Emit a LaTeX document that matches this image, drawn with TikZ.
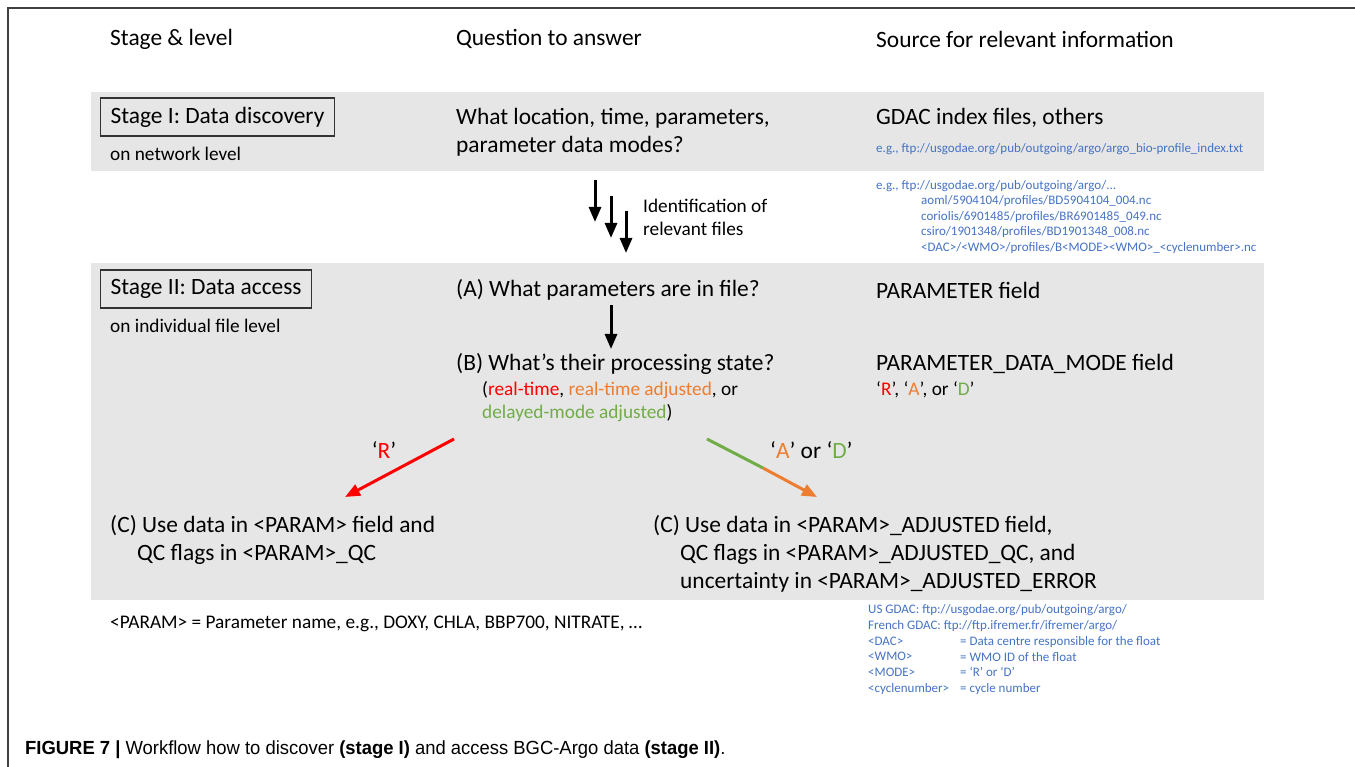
\documentclass[tikz,border=0pt]{standalone}
\usepackage{fontspec}
\setmainfont{Carlito}
\newfontfamily\capfont[FakeStretch=0.97]{Liberation Sans}
\usetikzlibrary{arrows.meta,positioning}
\definecolor{bandgray}{HTML}{E7E6E6}
\definecolor{linkblue}{HTML}{4472C4}
\definecolor{modered}{HTML}{FF0000}
\definecolor{modeorange}{HTML}{ED7D31}
\definecolor{modegreen}{HTML}{70AD47}

\begin{document}
\begin{tikzpicture}[x=1pt,y=-1pt,
      bigtxt/.style={
         anchor=west,
         inner sep=0pt,
         align=left,
         font=\fontsize{23.4}{28}\selectfont},
      midtxt/.style={
         anchor=west,
         inner sep=0pt,
         align=left,
         font=\fontsize{19.3}{23}\selectfont},
      linktxt/.style={
         anchor=west,
         inner sep=0pt,
         align=left,
         text=linkblue,
         font=\fontsize{13}{15.7}\selectfont},
      stagebox/.style={
         draw=black!80,
         line width=1.2pt,
         anchor=west,
         inner xsep=10pt,
         minimum height=38pt,
         font=\fontsize{23.4}{28}\selectfont},
      blackarrow/.style={-{Triangle[width=12pt,length=15pt]}, line width=3pt},
      modearrow/.style={-{Triangle[width=12pt,length=15pt]}, line width=3pt}
      ]
      \useasboundingbox (0,0) rectangle (1355,767);

      % frame and grey bands
      \draw[line width=1.3pt, black!75] (8,767) -- (8,8) -- (1355,8);
      \fill[bandgray] (91,92) rectangle (1264,171);
      \fill[bandgray] (91,263) rectangle (1264,600);

      % column heads
      \node[bigtxt] (hstage) at (110,39) {Stage \& level};
      \node[bigtxt] (hquest) at (456,39) {Question to answer};
      \node[bigtxt] (hsource) at (876,39) {Source for relevant information};

      % stage I
      \node[stagebox] (s1) at (100,117) {Stage I: Data discovery};
      \node[midtxt] (s1lvl) at (110,154) {on network level};
      \node[bigtxt] (q1) at (456,132) {What location, time, parameters,\\parameter data modes?};
      \node[bigtxt] (src1) at (876,118) {GDAC index files, others};
      \node[linktxt] (idx) at (876,149) {e.g., ftp://usgodae.org/pub/outgoing/argo/argo\_bio-profile\_index.txt};

      \foreach \n/\x/\y in {a/595/180, b/611/196, c/626/211} {
         \coordinate (id\n top) at (\x,\y);
         \coordinate (id\n end) at (\x,\y+42);
         \draw[blackarrow] (id\n top) -- (id\n end);
      }
      \node[midtxt] (ident) at (643,217) {Identification of\\relevant files};

      \node[linktxt] (ftp) at (876,186) {e.g., ftp://usgodae.org/pub/outgoing/argo/...};
      \node[linktxt] (files) at (921,224.5) {aoml/5904104/profiles/BD5904104\_004.nc\\
         coriolis/6901485/profiles/BR6901485\_049.nc\\
         csiro/1901348/profiles/BD1901348\_008.nc\\
         <DAC>/<WMO>/profiles/B<MODE><WMO>\_<cyclenumber>.nc};

      % stage II
      \node[stagebox] (s2) at (100,289) {Stage II: Data access};
      \node[midtxt] (s2lvl) at (110,326) {on individual file level};
      \node[bigtxt] (qa) at (456,290) {(A) What parameters are in file?};
      \node[bigtxt] (srca) at (876,290) {PARAMETER field};
      \coordinate (abtop) at (611,305);
      \coordinate (abend) at (611,349);
      \draw[blackarrow] (abtop) -- (abend);
      \node[bigtxt] (qb) at (456,364) {(B) What’s their processing state?};
      \node[midtxt] (states) at (482,401.5) {(\textcolor{modered}{real-time}, \textcolor{modeorange}{real-time adjusted}, or\\
         \textcolor{modegreen}{delayed-mode adjusted})};
      \node[bigtxt] (srcb) at (876,364) {PARAMETER\_DATA\_MODE field};
      \node[midtxt] (modes) at (876,390) {‘\textcolor{modered}{R}’, ‘\textcolor{modeorange}{A}’, or ‘\textcolor{modegreen}{D}’};

      % branches
      \coordinate (rtop) at (454,439);
      \coordinate (rend) at (345,497);
      \draw[modearrow, draw=modered] (rtop) -- (rend);
      \node[bigtxt, anchor=center] (rlbl) at (384,450) {‘\textcolor{modered}{R}’};

      \coordinate (adtop) at (707,439);
      \coordinate (admid) at (763,468);
      \coordinate (adend) at (817,497);
      \draw[line width=3pt, modegreen] (adtop) -- (admid);
      \draw[modearrow, draw=modeorange] (admid) -- (adend);
      \node[bigtxt] (adlbl) at (770,450) {‘\textcolor{modeorange}{A}’ or ‘\textcolor{modegreen}{D}’};

      \node[bigtxt] (cr1) at (110,526) {(C) Use data in <PARAM> field and};
      \node[bigtxt] (cr2) at (137,554) {QC flags in <PARAM>\_QC};
      \node[bigtxt] (cad1) at (653,526) {(C) Use data in <PARAM>\_ADJUSTED field,};
      \node[bigtxt] (cad2) at (680,568) {QC flags in <PARAM>\_ADJUSTED\_QC, and\\uncertainty in <PARAM>\_ADJUSTED\_ERROR};

      % notes
      \node[midtxt] (param) at (110,624) {<PARAM> = Parameter name, e.g., DOXY, CHLA, BBP700, NITRATE, …};
      \node[linktxt] (gdac) at (868,618) {US GDAC: ftp://usgodae.org/pub/outgoing/argo/\\French GDAC: ftp://ftp.ifremer.fr/ifremer/argo/};
      \node[linktxt] (keys) at (868,665.5) {<DAC>\\<WMO>\\<MODE>\\<cyclenumber>};
      \node[linktxt] (vals) at (960,665.5) {= Data centre responsible for the float\\= WMO ID of the float\\= ‘R’ or ‘D’\\= cycle number};

      \node[anchor=west, inner sep=0pt, font=\capfont\fontsize{19}{22}\selectfont] (cap) at (25,750)
         {\textbf{FIGURE 7 |} Workflow how to discover \textbf{(stage I)} and access BGC-Argo data \textbf{(stage II)}.};
\end{tikzpicture}
\end{document}
